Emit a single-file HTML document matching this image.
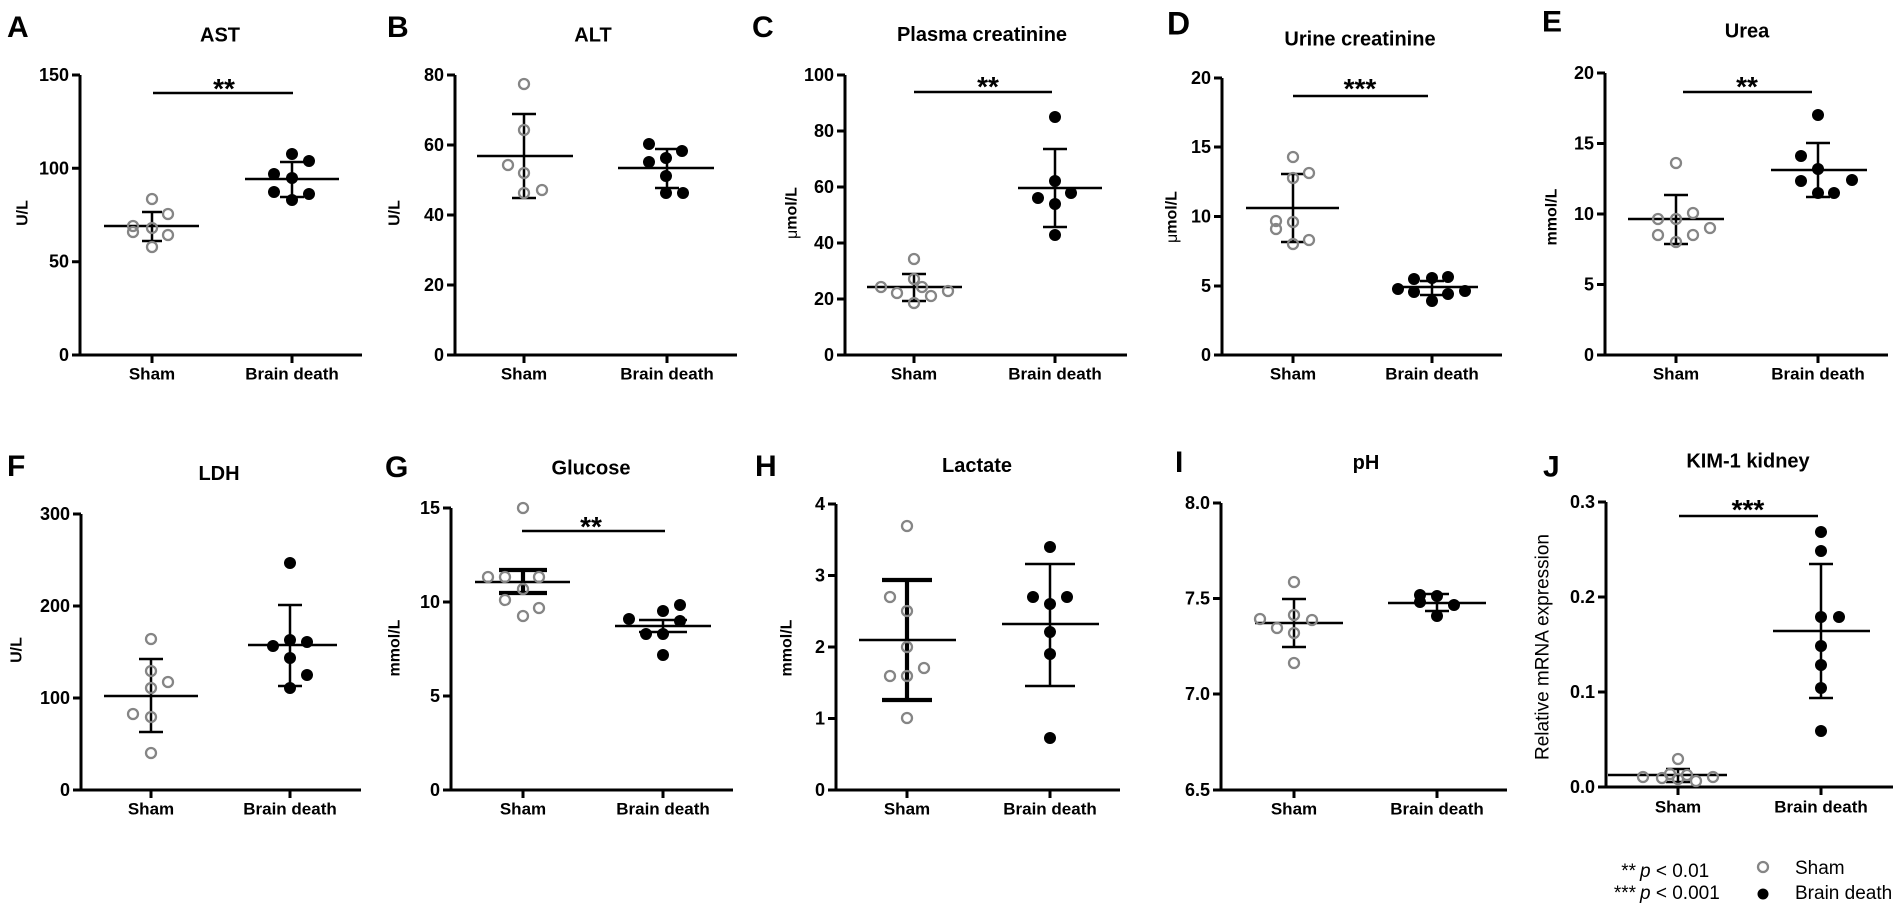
<!DOCTYPE html>
<html><head><meta charset="utf-8"><style>
html,body{margin:0;padding:0;background:#fff;}
svg{display:block;}
.ax{stroke:#000;stroke-width:3;fill:none}
.l{stroke:#000;stroke-width:2.5;fill:none}
.t{stroke:#000;stroke-width:4.2;fill:none}
.o{fill:none;stroke:#858585;stroke-width:2.3}
.f{fill:#000}
text{font-family:"Liberation Sans",Arial,sans-serif;fill:#000}
.tk{font-weight:bold;font-size:18px;text-anchor:end;dominant-baseline:central}
.xl{font-weight:bold;font-size:17px;text-anchor:middle;dominant-baseline:central}
.ti{font-weight:bold;font-size:20px;text-anchor:middle;dominant-baseline:central}
.pl{font-weight:bold;font-size:30px;dominant-baseline:central}
.yl{font-weight:bold;font-size:16px;text-anchor:middle;dominant-baseline:central}
.st{font-weight:bold;font-size:28px;text-anchor:middle}
.lg{font-size:19px}
</style></head><body>
<svg width="1900" height="908" viewBox="0 0 1900 908" xmlns="http://www.w3.org/2000/svg">
<rect width="1900" height="908" fill="#fff"/>

<!-- Panel A -->
<text class="pl" x="7" y="27.5">A</text>
<text class="ti" x="220" y="35.5">AST</text>
<path class="ax" d="M80,75V355H362"/>
<path class="ax" d="M72,75H80M72,168.3H80M72,261.7H80M72,355H80M152,355V363M292,355V363"/>
<text class="tk" x="69" y="75">150</text>
<text class="tk" x="69" y="168.3">100</text>
<text class="tk" x="69" y="261.7">50</text>
<text class="tk" x="69" y="355">0</text>
<text class="xl" x="152" y="374">Sham</text>
<text class="xl" x="292" y="374">Brain death</text>
<text class="yl" transform="translate(23,213) rotate(-90)">U/L</text>
<path class="l" d="M153,93H293"/>
<text class="st" x="224" y="98">**</text>
<path class="l" d="M104,226H199M152,212V241M142,212H162M142,241H162"/>
<circle class="o" cx="152" cy="199" r="5"/><circle class="o" cx="168" cy="214" r="5"/><circle class="o" cx="133" cy="226" r="5"/><circle class="o" cx="152" cy="228" r="5"/><circle class="o" cx="133" cy="232" r="5"/><circle class="o" cx="168" cy="235" r="5"/><circle class="o" cx="152" cy="247" r="5"/>
<path class="l" d="M245,179H339M292,162V197M280,162H304M280,197H304"/>
<circle class="f" cx="292" cy="154" r="6"/><circle class="f" cx="309" cy="161" r="6"/><circle class="f" cx="274" cy="174" r="6"/><circle class="f" cx="292" cy="178" r="6"/><circle class="f" cx="274" cy="192" r="6"/><circle class="f" cx="309" cy="194" r="6"/><circle class="f" cx="292" cy="200" r="6"/>

<!-- Panel B -->
<text class="pl" x="387" y="27.5">B</text>
<text class="ti" x="593" y="35.5">ALT</text>
<path class="ax" d="M455,75V355H737"/>
<path class="ax" d="M447,75H455M447,145H455M447,215H455M447,285H455M447,355H455M524,355V363M667,355V363"/>
<text class="tk" x="444" y="75">80</text>
<text class="tk" x="444" y="145">60</text>
<text class="tk" x="444" y="215">40</text>
<text class="tk" x="444" y="285">20</text>
<text class="tk" x="444" y="355">0</text>
<text class="xl" x="524" y="374">Sham</text>
<text class="xl" x="667" y="374">Brain death</text>
<text class="yl" transform="translate(395,213) rotate(-90)">U/L</text>
<path class="l" d="M477,156H573M524,114V198M512,114H536M512,198H536"/>
<circle class="o" cx="524" cy="84" r="5"/><circle class="o" cx="524" cy="130" r="5"/><circle class="o" cx="508" cy="165" r="5"/><circle class="o" cx="524" cy="173" r="5"/><circle class="o" cx="524" cy="193" r="5"/><circle class="o" cx="542" cy="190" r="5"/>
<path class="l" d="M618,168H714M667,149V188M655,149H679M655,188H679"/>
<circle class="f" cx="649" cy="144" r="6"/><circle class="f" cx="666" cy="158" r="6"/><circle class="f" cx="649" cy="162" r="6"/><circle class="f" cx="682" cy="151" r="6"/><circle class="f" cx="666" cy="176" r="6"/><circle class="f" cx="666" cy="193" r="6"/><circle class="f" cx="683" cy="193" r="6"/>

<!-- Panel C -->
<text class="pl" x="752" y="27.5">C</text>
<text class="ti" x="982" y="35">Plasma creatinine</text>
<path class="ax" d="M845,75V355H1127"/>
<path class="ax" d="M837,75H845M837,131H845M837,187H845M837,243H845M837,299H845M837,355H845M914,355V363M1055,355V363"/>
<text class="tk" x="834" y="75">100</text>
<text class="tk" x="834" y="131">80</text>
<text class="tk" x="834" y="187">60</text>
<text class="tk" x="834" y="243">40</text>
<text class="tk" x="834" y="299">20</text>
<text class="tk" x="834" y="355">0</text>
<text class="xl" x="914" y="374">Sham</text>
<text class="xl" x="1055" y="374">Brain death</text>
<text class="yl" transform="translate(792,213) rotate(-90)"><tspan font-weight="normal">μ</tspan>mol/L</text>
<path class="l" d="M914,92H1052"/>
<text class="st" x="988" y="96">**</text>
<path class="l" d="M867,287H962M914,274V301M902,274H926M902,301H926"/>
<circle class="o" cx="914" cy="259" r="5"/><circle class="o" cx="914" cy="279" r="5"/><circle class="o" cx="881" cy="287" r="5"/><circle class="o" cx="897" cy="293" r="5"/><circle class="o" cx="922" cy="287" r="5"/><circle class="o" cx="931" cy="296" r="5"/><circle class="o" cx="914" cy="303" r="5"/><circle class="o" cx="948" cy="291" r="5"/>
<path class="l" d="M1018,188H1102M1055,149V227M1043,149H1067M1043,227H1067"/>
<circle class="f" cx="1055" cy="117" r="6"/><circle class="f" cx="1055" cy="181" r="6"/><circle class="f" cx="1038" cy="198" r="6"/><circle class="f" cx="1071" cy="193" r="6"/><circle class="f" cx="1055" cy="204" r="6"/><circle class="f" cx="1055" cy="235" r="6"/>

<!-- Panel D -->
<text class="pl" x="1167" y="23.5" style="font-size:32px">D</text>
<text class="ti" x="1360" y="39.5">Urine creatinine</text>
<path class="ax" d="M1222,78V355H1502"/>
<path class="ax" d="M1214,78H1222M1214,147H1222M1214,216.5H1222M1214,286H1222M1214,355H1222M1293,355V363M1432,355V363"/>
<text class="tk" x="1211" y="78">20</text>
<text class="tk" x="1211" y="147">15</text>
<text class="tk" x="1211" y="216.5">10</text>
<text class="tk" x="1211" y="286">5</text>
<text class="tk" x="1211" y="355">0</text>
<text class="xl" x="1293" y="374">Sham</text>
<text class="xl" x="1432" y="374">Brain death</text>
<text class="yl" transform="translate(1172,217) rotate(-90)"><tspan font-weight="normal">μ</tspan>mol/L</text>
<path class="l" d="M1293,96H1428"/>
<text class="st" x="1360" y="98">***</text>
<path class="l" d="M1246,208H1339M1293,174V242M1281,174H1305M1281,242H1305"/>
<circle class="o" cx="1293" cy="157" r="5"/><circle class="o" cx="1293" cy="178" r="5"/><circle class="o" cx="1309" cy="173" r="5"/><circle class="o" cx="1276" cy="221" r="5"/><circle class="o" cx="1276" cy="229" r="5"/><circle class="o" cx="1293" cy="222" r="5"/><circle class="o" cx="1293" cy="244" r="5"/><circle class="o" cx="1309" cy="240" r="5"/>
<path class="l" d="M1400,287H1478M1432,281V295M1420,281H1444M1420,295H1444"/>
<circle class="f" cx="1398" cy="289" r="6"/><circle class="f" cx="1414" cy="279" r="6"/><circle class="f" cx="1432" cy="278" r="6"/><circle class="f" cx="1448" cy="277" r="6"/><circle class="f" cx="1414" cy="292" r="6"/><circle class="f" cx="1448" cy="294" r="6"/><circle class="f" cx="1465" cy="291" r="6"/><circle class="f" cx="1432" cy="301" r="6"/>

<!-- Panel E -->
<text class="pl" x="1542" y="22">E</text>
<text class="ti" x="1747" y="31.5">Urea</text>
<path class="ax" d="M1605,73V355H1888"/>
<path class="ax" d="M1597,73H1605M1597,143.5H1605M1597,214H1605M1597,284.5H1605M1597,355H1605M1676,355V363M1818,355V363"/>
<text class="tk" x="1594" y="73">20</text>
<text class="tk" x="1594" y="143.5">15</text>
<text class="tk" x="1594" y="214">10</text>
<text class="tk" x="1594" y="284.5">5</text>
<text class="tk" x="1594" y="355">0</text>
<text class="xl" x="1676" y="374">Sham</text>
<text class="xl" x="1818" y="374">Brain death</text>
<text class="yl" transform="translate(1552,217) rotate(-90)">mmol/L</text>
<path class="l" d="M1683,92H1812"/>
<text class="st" x="1747" y="96">**</text>
<path class="l" d="M1628,219H1724M1676,195V244M1664,195H1688M1664,244H1688"/>
<circle class="o" cx="1676" cy="163" r="5"/><circle class="o" cx="1658" cy="219" r="5"/><circle class="o" cx="1676" cy="219" r="5"/><circle class="o" cx="1693" cy="213" r="5"/><circle class="o" cx="1658" cy="235" r="5"/><circle class="o" cx="1693" cy="235" r="5"/><circle class="o" cx="1710" cy="228" r="5"/><circle class="o" cx="1676" cy="242" r="5"/>
<path class="l" d="M1771,170H1867M1818,143V197M1806,143H1830M1806,197H1830"/>
<circle class="f" cx="1818" cy="115" r="6"/><circle class="f" cx="1801" cy="156" r="6"/><circle class="f" cx="1818" cy="169" r="6"/><circle class="f" cx="1801" cy="181" r="6"/><circle class="f" cx="1852" cy="180" r="6"/><circle class="f" cx="1818" cy="193" r="6"/><circle class="f" cx="1834" cy="193" r="6"/>

<!-- Panel F -->
<text class="pl" x="7" y="466.5">F</text>
<text class="ti" x="219" y="474">LDH</text>
<path class="ax" d="M81,514V790H361"/>
<path class="ax" d="M73,514H81M73,606H81M73,698H81M73,790H81M151,790V798M290,790V798"/>
<text class="tk" x="70" y="514">300</text>
<text class="tk" x="70" y="606">200</text>
<text class="tk" x="70" y="698">100</text>
<text class="tk" x="70" y="790">0</text>
<text class="xl" x="151" y="809">Sham</text>
<text class="xl" x="290" y="809">Brain death</text>
<text class="yl" transform="translate(17,650) rotate(-90)">U/L</text>
<path class="l" d="M104,696H198M151,659V732M139,659H163M139,732H163"/>
<circle class="o" cx="151" cy="639" r="5"/><circle class="o" cx="151" cy="671" r="5"/><circle class="o" cx="168" cy="682" r="5"/><circle class="o" cx="151" cy="688" r="5"/><circle class="o" cx="133" cy="714" r="5"/><circle class="o" cx="151" cy="717" r="5"/><circle class="o" cx="151" cy="753" r="5"/>
<path class="l" d="M248,645H337M290,605V686M278,605H302M278,686H302"/>
<circle class="f" cx="290" cy="563" r="6"/><circle class="f" cx="273" cy="646" r="6"/><circle class="f" cx="290" cy="640" r="6"/><circle class="f" cx="307" cy="642" r="6"/><circle class="f" cx="290" cy="658" r="6"/><circle class="f" cx="307" cy="675" r="6"/><circle class="f" cx="290" cy="688" r="6"/>

<!-- Panel G -->
<text class="pl" x="385" y="467.5">G</text>
<text class="ti" x="591" y="468.5">Glucose</text>
<path class="ax" d="M451,508V790H733"/>
<path class="ax" d="M443,508H451M443,602H451M443,696H451M443,790H451M523,790V798M663,790V798"/>
<text class="tk" x="440" y="508">15</text>
<text class="tk" x="440" y="602">10</text>
<text class="tk" x="440" y="696">5</text>
<text class="tk" x="440" y="790">0</text>
<text class="xl" x="523" y="809">Sham</text>
<text class="xl" x="663" y="809">Brain death</text>
<text class="yl" transform="translate(395,648) rotate(-90)">mmol/L</text>
<path class="l" d="M522,531H665"/>
<text class="st" x="591" y="536">**</text>
<path class="l" d="M475,582H570"/>
<path class="t" d="M523,570V593M499,570H547M499,593H547"/>
<circle class="o" cx="523" cy="508" r="5"/><circle class="o" cx="488" cy="577" r="5"/><circle class="o" cx="505" cy="577" r="5"/><circle class="o" cx="539" cy="577" r="5"/><circle class="o" cx="523" cy="589" r="5"/><circle class="o" cx="505" cy="600" r="5"/><circle class="o" cx="539" cy="608" r="5"/><circle class="o" cx="523" cy="616" r="5"/>
<path class="l" d="M615,626H711M663,620V632M639,620H687M639,632H687"/>
<circle class="f" cx="663" cy="655" r="6"/><circle class="f" cx="629" cy="619" r="6"/><circle class="f" cx="663" cy="611" r="6"/><circle class="f" cx="680" cy="605" r="6"/><circle class="f" cx="680" cy="621" r="6"/><circle class="f" cx="646" cy="634" r="6"/><circle class="f" cx="663" cy="634" r="6"/>

<!-- Panel H -->
<text class="pl" x="755" y="466.5">H</text>
<text class="ti" x="977" y="466">Lactate</text>
<path class="ax" d="M836,504V790H1120"/>
<path class="ax" d="M828,504H836M828,575.5H836M828,647H836M828,718.5H836M828,790H836M907,790V798M1050,790V798"/>
<text class="tk" x="825" y="504">4</text>
<text class="tk" x="825" y="575.5">3</text>
<text class="tk" x="825" y="647">2</text>
<text class="tk" x="825" y="718.5">1</text>
<text class="tk" x="825" y="790">0</text>
<text class="xl" x="907" y="809">Sham</text>
<text class="xl" x="1050" y="809">Brain death</text>
<text class="yl" transform="translate(787,648) rotate(-90)">mmol/L</text>
<path class="l" d="M859,640H956"/>
<path class="t" d="M907,580V700M882,580H932M882,700H932"/>
<circle class="o" cx="907" cy="526" r="5"/><circle class="o" cx="890" cy="597" r="5"/><circle class="o" cx="907" cy="611" r="5"/><circle class="o" cx="907" cy="647" r="5"/><circle class="o" cx="924" cy="668" r="5"/><circle class="o" cx="890" cy="676" r="5"/><circle class="o" cx="907" cy="676" r="5"/><circle class="o" cx="907" cy="718" r="5"/>
<path class="l" d="M1002,624H1099M1050,564V686M1025,564H1075M1025,686H1075"/>
<circle class="f" cx="1050" cy="547" r="6"/><circle class="f" cx="1033" cy="597" r="6"/><circle class="f" cx="1067" cy="597" r="6"/><circle class="f" cx="1050" cy="604" r="6"/><circle class="f" cx="1050" cy="632" r="6"/><circle class="f" cx="1050" cy="654" r="6"/><circle class="f" cx="1050" cy="738" r="6"/>

<!-- Panel I -->
<text class="pl" x="1175" y="462.5">I</text>
<text class="ti" x="1366" y="463">pH</text>
<path class="ax" d="M1221,503V790H1507"/>
<path class="ax" d="M1213,503H1221M1213,598.5H1221M1213,694H1221M1213,790H1221M1294,790V798M1437,790V798"/>
<text class="tk" x="1210" y="503">8.0</text>
<text class="tk" x="1210" y="598.5">7.5</text>
<text class="tk" x="1210" y="694">7.0</text>
<text class="tk" x="1210" y="790">6.5</text>
<text class="xl" x="1294" y="809">Sham</text>
<text class="xl" x="1437" y="809">Brain death</text>
<path class="l" d="M1255,623H1343M1294,599V647M1282,599H1306M1282,647H1306"/>
<circle class="o" cx="1294" cy="582" r="5"/><circle class="o" cx="1294" cy="615" r="5"/><circle class="o" cx="1260" cy="619" r="5"/><circle class="o" cx="1312" cy="620" r="5"/><circle class="o" cx="1277" cy="628" r="5"/><circle class="o" cx="1294" cy="633" r="5"/><circle class="o" cx="1294" cy="663" r="5"/>
<path class="l" d="M1388,603H1486M1437,594V611M1425,594H1449M1425,611H1449"/>
<circle class="f" cx="1420" cy="595" r="6"/><circle class="f" cx="1420" cy="602" r="6"/><circle class="f" cx="1437" cy="596" r="6"/><circle class="f" cx="1454" cy="605" r="6"/><circle class="f" cx="1437" cy="616" r="6"/>

<!-- Panel J -->
<text class="pl" x="1543" y="467">J</text>
<text class="ti" x="1748" y="461.5">KIM-1 kidney</text>
<path class="ax" d="M1606,502V787H1893"/>
<path class="ax" d="M1598,502H1606M1598,597H1606M1598,692H1606M1598,787H1606M1678,787V795M1821,787V795"/>
<text class="tk" x="1595" y="502">0.3</text>
<text class="tk" x="1595" y="597">0.2</text>
<text class="tk" x="1595" y="692">0.1</text>
<text class="tk" x="1595" y="787">0.0</text>
<text class="xl" x="1678" y="807">Sham</text>
<text class="xl" x="1821" y="807">Brain death</text>
<text transform="translate(1543,647) rotate(-90)" style="font-size:19px;text-anchor:middle;dominant-baseline:central">Relative mRNA expression</text>
<path class="l" d="M1679,516H1818"/>
<text class="st" x="1748" y="519">***</text>
<path class="l" d="M1608,775H1727M1678,769V782M1666,769H1690M1666,782H1690"/>
<circle class="o" cx="1678" cy="759" r="5"/><circle class="o" cx="1643" cy="777" r="5"/><circle class="o" cx="1662" cy="778" r="5"/><circle class="o" cx="1670" cy="774" r="5"/><circle class="o" cx="1687" cy="775" r="5"/><circle class="o" cx="1696" cy="781" r="5"/><circle class="o" cx="1713" cy="777" r="5"/><circle class="o" cx="1678" cy="779" r="5"/>
<path class="l" d="M1773,631H1870M1821,564V698M1809,564H1833M1809,698H1833"/>
<circle class="f" cx="1821" cy="532" r="6"/><circle class="f" cx="1821" cy="551" r="6"/><circle class="f" cx="1821" cy="617" r="6"/><circle class="f" cx="1839" cy="617" r="6"/><circle class="f" cx="1821" cy="646" r="6"/><circle class="f" cx="1821" cy="665" r="6"/><circle class="f" cx="1821" cy="688" r="6"/><circle class="f" cx="1821" cy="731" r="6"/>

<!-- Legend -->
<text class="lg" x="1636" y="877" text-anchor="end">**</text>
<text class="lg" x="1640" y="877"><tspan font-style="italic">p</tspan> &lt; 0.01</text>
<text class="lg" x="1636" y="899" text-anchor="end">***</text>
<text class="lg" x="1640" y="899"><tspan font-style="italic">p</tspan> &lt; 0.001</text>
<circle class="o" cx="1763" cy="867" r="5"/>
<circle class="f" cx="1763" cy="894" r="5.5"/>
<text class="lg" x="1795" y="874">Sham</text>
<text class="lg" x="1795" y="899">Brain death</text>
</svg>
</body></html>
